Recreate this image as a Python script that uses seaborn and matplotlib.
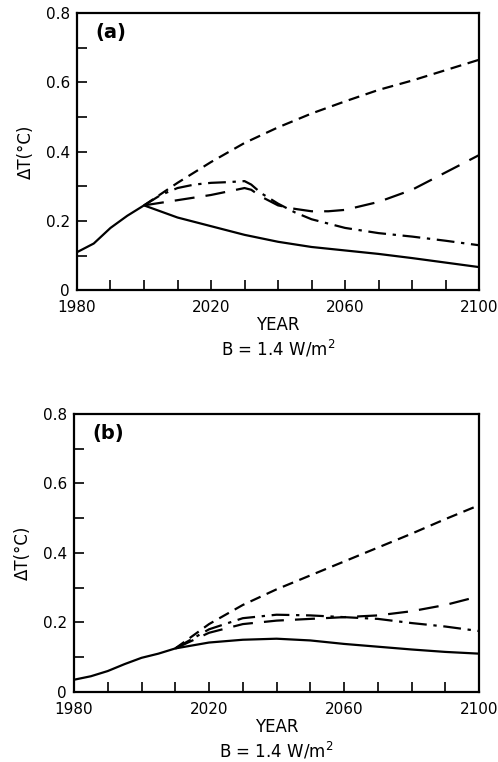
import numpy as np
import pandas as pd
import seaborn as sns
import matplotlib.pyplot as plt
from matplotlib.ticker import MultipleLocator

# panel (a)
a_solid_year = [1980, 1985, 1990, 1995, 2000, 2010, 2020, 2030, 2040, 2050, 2060, 2070, 2080, 2090, 2100]
a_solid_dt = [0.11, 0.135, 0.18, 0.215, 0.245, 0.21, 0.185, 0.16, 0.14, 0.125, 0.115, 0.105, 0.093, 0.08, 0.067]

a_short_year = [2000, 2010, 2020, 2030, 2040, 2050, 2060, 2070, 2080, 2090, 2100]
a_short_dt = [0.245, 0.31, 0.37, 0.425, 0.47, 0.51, 0.545, 0.578, 0.605, 0.635, 0.665]

a_dashdot_year = [2000, 2005, 2010, 2015, 2020, 2025, 2030, 2032, 2035, 2040, 2045, 2050, 2060, 2070, 2080, 2090, 2100]
a_dashdot_dt = [0.245, 0.275, 0.295, 0.305, 0.31, 0.312, 0.315, 0.305, 0.28, 0.25, 0.225, 0.205, 0.18, 0.165, 0.155, 0.143, 0.13]

a_long_year = [2000, 2010, 2020, 2030, 2032, 2035, 2040, 2045, 2050, 2055, 2060, 2070, 2080, 2090, 2100]
a_long_dt = [0.245, 0.26, 0.275, 0.295, 0.29, 0.27, 0.245, 0.235, 0.228, 0.228, 0.232, 0.255, 0.29, 0.34, 0.39]

# panel (b)
b_solid_year = [1980, 1985, 1990, 1995, 2000, 2005, 2010, 2020, 2030, 2040, 2050, 2060, 2070, 2080, 2090, 2100]
b_solid_dt = [0.035, 0.045, 0.06, 0.08, 0.098, 0.11, 0.125, 0.142, 0.15, 0.153, 0.148, 0.138, 0.13, 0.122, 0.115, 0.11]

b_short_year = [2010, 2020, 2030, 2040, 2050, 2060, 2070, 2080, 2090, 2100]
b_short_dt = [0.125, 0.195, 0.25, 0.295, 0.335, 0.375, 0.415, 0.455, 0.497, 0.537]

b_dashdot_year = [2010, 2020, 2030, 2040, 2050, 2060, 2070, 2080, 2090, 2100]
b_dashdot_dt = [0.125, 0.18, 0.212, 0.222, 0.22, 0.215, 0.21, 0.198, 0.188, 0.175]

b_long_year = [2010, 2020, 2030, 2040, 2050, 2060, 2070, 2080, 2090, 2100]
b_long_dt = [0.125, 0.17, 0.195, 0.205, 0.21, 0.215, 0.22, 0.232, 0.25, 0.275]

cases = ["solid", "short", "dashdot", "long"]
dash_map = {"solid": "", "short": (5, 3), "dashdot": (8, 3, 1.5, 3), "long": (9, 5)}


def build(years, values):
    frames = []
    for case, yr, dt in zip(cases, years, values):
        frames.append(pd.DataFrame({"year": yr, "dT": dt, "case": case}))
    return pd.concat(frames, ignore_index=True)


df_a = build([a_solid_year, a_short_year, a_dashdot_year, a_long_year],
             [a_solid_dt, a_short_dt, a_dashdot_dt, a_long_dt])
df_b = build([b_solid_year, b_short_year, b_dashdot_year, b_long_year],
             [b_solid_dt, b_short_dt, b_dashdot_dt, b_long_dt])

sns.set_style("white")
plt.rcParams["font.family"] = ["DejaVu Sans"]
plt.rcParams["text.color"] = "black"
plt.rcParams["axes.labelcolor"] = "black"

fig = plt.figure(figsize=(4.98, 7.62), dpi=100)
ax_a = fig.add_axes([0.1546, 0.619, 0.8074, 0.364])
ax_b = fig.add_axes([0.1486, 0.092, 0.8134, 0.365])

for ax, df, tag in [(ax_a, df_a, "(a)"), (ax_b, df_b, "(b)")]:
    sns.lineplot(data=df, x="year", y="dT", style="case", style_order=cases,
                 dashes=dash_map, color="black", linewidth=1.6,
                 estimator=None, sort=False, legend=False, ax=ax)
    ax.set_xlim(1980, 2100)
    ax.set_ylim(0, 0.8)
    ax.set_xticks([1980, 2020, 2060, 2100])
    ax.xaxis.set_minor_locator(MultipleLocator(10))
    ax.set_yticks([0, 0.2, 0.4, 0.6, 0.8])
    ax.set_yticklabels(["0", "0.2", "0.4", "0.6", "0.8"])
    ax.yaxis.set_minor_locator(MultipleLocator(0.1))
    ax.tick_params(which="both", direction="in", top=False, right=False,
                   left=True, bottom=True, labelsize=11, colors="black")
    ax.tick_params(which="major", length=7, width=1.2)
    ax.tick_params(axis="x", which="major", pad=7)
    ax.tick_params(axis="y", which="major", pad=5)
    ax.tick_params(which="minor", length=7, width=1.2)
    for s in ax.spines.values():
        s.set_linewidth(1.6)
        s.set_color("black")
    ax.set_xlabel("YEAR\nB = 1.4 W/m$^2$", fontsize=12, labelpad=1, linespacing=1.25)
    ax.set_ylabel("ΔT(°C)", fontsize=12, labelpad=8)
    ax.text(0.045, 0.965, tag, transform=ax.transAxes, fontsize=14,
            fontweight="bold", va="top", ha="left")

fig.savefig("out.png", dpi=100)
